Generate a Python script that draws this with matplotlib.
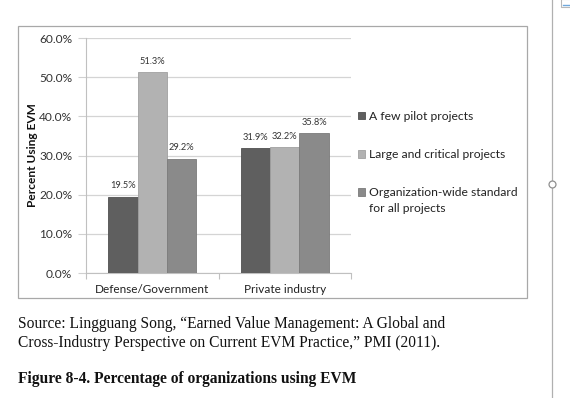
import matplotlib
matplotlib.use('Agg')
import matplotlib.pyplot as plt
import numpy as np
from matplotlib.patches import Rectangle
from matplotlib.lines import Line2D
from matplotlib.legend_handler import HandlerPatch, update_from_first_child

# data
categories = ["Defense/Government", "Private industry"]
series_names = ["A few pilot projects", "Large and critical projects",
                "Organization-wide standard\nfor all projects"]
pilot = [19.5, 31.9]
large = [51.3, 32.2]
org_wide = [29.2, 35.8]
series_values = [pilot, large, org_wide]
colors = ["#5f5f5f", "#b2b2b2", "#8a8a8a"]
edges = ["#505050", "#a0a0a0", "#7a7a7a"]

plt.rcParams['font.family'] = ['Lato', 'DejaVu Sans']

fig = plt.figure(figsize=(5.7, 3.98), dpi=100)
ax = fig.add_axes([86 / 570, 125 / 398, 265 / 570, 235 / 398])

x = np.arange(len(categories))
w = 0.2226
containers = []
for i, vals in enumerate(series_values):
    pos = x + (i - 1) * w
    bc = ax.bar(pos, vals, width=w, color=colors[i], edgecolor=edges[i],
                linewidth=0.6, label=series_names[i], zorder=3)
    containers.append(bc)
    for p, v in zip(pos, vals):
        ax.text(p, v + 1.6, f"{v:.1f}%", ha='center', va='bottom',
                fontsize=6.7, color='#333333', zorder=5,
                bbox=dict(facecolor='white', edgecolor='none', pad=0.4))

ax.set_xlim(-0.5, 1.5)
ax.set_ylim(0, 60)
ax.set_yticks(range(0, 61, 10))
ax.set_yticklabels([f"{t:.1f}%" for t in range(0, 61, 10)], fontsize=8.6,
                   color='#333333')
ax.yaxis.grid(True, color='#d4d4d4', linewidth=0.9, zorder=0)
ax.set_axisbelow(True)
ax.set_xticks(x)
ax.set_xticklabels(categories, fontsize=8.5, color='#222222')
ax.tick_params(axis='x', length=0, pad=8)
ax.set_xticks([-0.5, 0.5, 1.5], minor=True)
ax.tick_params(axis='x', which='minor', length=4, color='#c0c0c0', width=0.8)
ax.tick_params(axis='y', length=6, color='#d0d0d0', width=0.8, pad=4)
for s in ['top', 'right']:
    ax.spines[s].set_visible(False)
for s in ['left', 'bottom']:
    ax.spines[s].set_color('#c0c0c0')
    ax.spines[s].set_linewidth(0.8)
ax.set_ylabel("Percent Using EVM", fontsize=8.6, fontweight='bold',
              color='#111111', labelpad=0.5)


# the two-line entry keeps its square next to the first line
def raised_square(legend, orig_handle, xdescent, ydescent, width, height, fontsize):
    return Rectangle((-xdescent, -ydescent + 0.75 * fontsize), width, height)


leg = ax.legend(loc='upper left', bbox_to_anchor=(358 / 570, 1 - 111 / 398),
                bbox_transform=fig.transFigure, frameon=False, fontsize=8.7,
                handlelength=0.55, handleheight=0.55, handletextpad=0.35,
                labelspacing=2.25, borderpad=0, borderaxespad=0,
                labelcolor='#222222',
                handler_map={containers[2]: HandlerPatch(
                    patch_func=raised_square,
                    update_func=update_from_first_child)})
leg.get_texts()[2].set_linespacing(1.55)

# chart frame
fig.patches.append(Rectangle((18 / 570, 1 - 298 / 398), 509 / 570, 272 / 398,
                             transform=fig.transFigure, fill=False,
                             edgecolor='#a8a8a8', linewidth=0.9))
# page margin line with handle
fig.lines.append(Line2D([552 / 570, 552 / 570], [0, 1],
                        transform=fig.transFigure, color='#b0b0b0', lw=0.9))
fig.lines.append(Line2D([552 / 570], [1 - 184 / 398], transform=fig.transFigure,
                        marker='o', markersize=5, markerfacecolor='white',
                        markeredgecolor='#909090', markeredgewidth=0.9))
# small icon in the corner
fig.patches.append(Rectangle((561 / 570, 1 - 7 / 398), 12 / 570, 8 / 398,
                             transform=fig.transFigure, facecolor='white',
                             edgecolor='#b8b8b8', linewidth=0.8))
fig.lines.append(Line2D([563 / 570, 570 / 570], [1 - 4.5 / 398, 1 - 4.5 / 398],
                        transform=fig.transFigure, color='#6fa8dc', lw=1))

serif = ['Liberation Serif', 'DejaVu Serif']
fig.text(18 / 570, 1 - 324 / 398,
         "Source: Lingguang Song, \u201cEarned Value Management: A Global and",
         family=serif, fontsize=11.2, va='center', color='#111111')
fig.text(18 / 570, 1 - 343 / 398,
         "Cross-Industry Perspective on Current EVM Practice,\u201d PMI (2011).",
         family=serif, fontsize=11.2, va='center', color='#111111')
fig.text(18 / 570, 1 - 379 / 398,
         "Figure 8-4. Percentage of organizations using EVM",
         family=serif, fontsize=11.2, fontweight='bold', va='center',
         color='#111111')

fig.savefig("out.png", dpi=100)
